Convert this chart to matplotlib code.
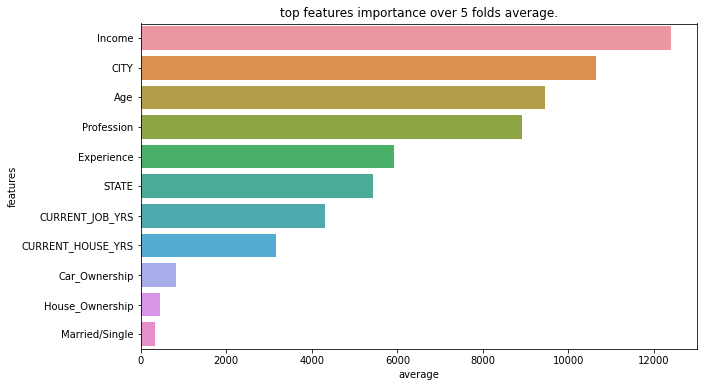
import matplotlib
matplotlib.use("Agg")
import matplotlib.pyplot as plt
import seaborn as sns
import numpy as np

features = ["Income", "CITY", "Age", "Profession", "Experience", "STATE",
            "CURRENT_JOB_YRS", "CURRENT_HOUSE_YRS", "Car_Ownership",
            "House_Ownership", "Married/Single"]
average = [12400, 10654, 9463, 8926, 5914, 5423, 4303, 3160, 817, 451, 333]

fig = plt.figure(figsize=(705 / 72, 387 / 72), dpi=72)
ax = fig.add_axes([140.7 / 705, 1 - 349 / 387, (696.7 - 140.7) / 705, (349 - 23.5) / 387])
palette = [sns.desaturate(c, 0.75) for c in sns.husl_palette(len(features), l=0.7)]
pos = np.arange(len(features))
ax.barh(pos, average, height=0.8, color=palette)
ax.set_yticks(pos)
ax.set_yticklabels(features)
ax.set_ylim(len(features) - 0.5, -0.5)
ax.set_xlim(0, 13000)
ax.set_title("top features importance over 5 folds average.")
ax.set_xlabel("average")
ax.set_ylabel("features")
fig.savefig("out.png", dpi=72)
